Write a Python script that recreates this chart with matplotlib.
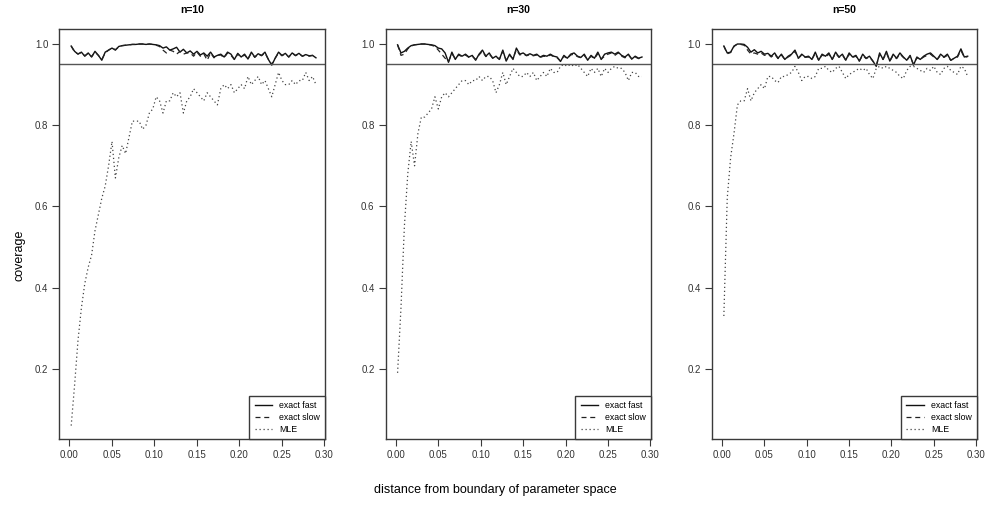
import numpy as np
import matplotlib
matplotlib.use('Agg')
import matplotlib.pyplot as plt

# distance grid (same for all three panels)
dist = np.arange(0.002, 0.2901, 0.004)

panel_titles = ['n=10', 'n=30', 'n=50']
series_labels = ['exact fast', 'exact slow', 'MLE']
y_ticks = [0.2, 0.4, 0.6, 0.8, 1.0]
x_ticks = [0.00, 0.05, 0.10, 0.15, 0.20, 0.25, 0.30]
nominal = 0.95

# n=10
fast_10 = [0.995, 0.982, 0.975, 0.980, 0.970, 0.978, 0.968, 0.982, 0.972, 0.960,
           0.980, 0.985, 0.990, 0.985, 0.994, 0.996, 0.997, 0.998, 0.999, 0.999,
           1.000, 1.000, 0.999, 1.000, 0.999, 0.998, 0.996, 0.990, 0.993, 0.985,
           0.988, 0.992, 0.980, 0.987, 0.978, 0.983, 0.975, 0.982, 0.973, 0.978,
           0.970, 0.980, 0.968, 0.972, 0.975, 0.968, 0.980, 0.975, 0.962, 0.977,
           0.968, 0.975, 0.963, 0.980, 0.968, 0.976, 0.972, 0.980, 0.962, 0.948,
           0.965, 0.980, 0.972, 0.977, 0.968, 0.978, 0.972, 0.977, 0.970, 0.974,
           0.971, 0.972, 0.966]
slow_10 = [0.995, 0.980, 0.976, 0.979, 0.971, 0.977, 0.969, 0.980, 0.972, 0.962,
           0.978, 0.985, 0.990, 0.986, 0.993, 0.996, 0.997, 0.998, 0.999, 0.999,
           1.000, 1.000, 0.999, 1.000, 0.999, 0.997, 0.994, 0.985, 0.978, 0.985,
           0.982, 0.975, 0.982, 0.975, 0.978, 0.978, 0.970, 0.980, 0.970, 0.976,
           0.960, 0.978, 0.966, 0.972, 0.973, 0.966, 0.978, 0.972, 0.962, 0.975,
           0.968, 0.973, 0.963, 0.978, 0.967, 0.975, 0.971, 0.978, 0.962, 0.950,
           0.965, 0.978, 0.971, 0.976, 0.968, 0.977, 0.971, 0.976, 0.970, 0.973,
           0.970, 0.972, 0.967]
mle_10 = [0.06, 0.16, 0.27, 0.35, 0.41, 0.45, 0.48, 0.54, 0.58, 0.62,
          0.65, 0.70, 0.76, 0.67, 0.72, 0.75, 0.73, 0.77, 0.81, 0.81,
          0.81, 0.79, 0.80, 0.83, 0.84, 0.87, 0.86, 0.83, 0.86, 0.86,
          0.88, 0.87, 0.88, 0.83, 0.86, 0.87, 0.89, 0.88, 0.87, 0.86,
          0.88, 0.87, 0.86, 0.85, 0.89, 0.90, 0.89, 0.90, 0.88, 0.89,
          0.90, 0.89, 0.92, 0.90, 0.91, 0.92, 0.90, 0.91, 0.89, 0.87,
          0.90, 0.93, 0.91, 0.90, 0.90, 0.91, 0.90, 0.91, 0.91, 0.93,
          0.91, 0.92, 0.90]

# n=30
fast_30 = [0.998, 0.978, 0.982, 0.990, 0.996, 0.998, 0.999, 1.000, 1.000, 0.999,
           0.998, 0.996, 0.990, 0.988, 0.978, 0.955, 0.980, 0.962, 0.975, 0.970,
           0.975, 0.968, 0.972, 0.960, 0.975, 0.985, 0.970, 0.978, 0.965, 0.970,
           0.962, 0.985, 0.958, 0.975, 0.962, 0.990, 0.975, 0.978, 0.972, 0.976,
           0.972, 0.975, 0.968, 0.972, 0.970, 0.975, 0.970, 0.968, 0.957, 0.972,
           0.965, 0.975, 0.978, 0.970, 0.967, 0.975, 0.960, 0.972, 0.965, 0.980,
           0.962, 0.975, 0.978, 0.980, 0.975, 0.980, 0.972, 0.968, 0.975, 0.963,
           0.970, 0.965, 0.968]
slow_30 = [0.998, 0.972, 0.975, 0.988, 0.995, 0.998, 0.999, 1.000, 1.000, 0.999,
           0.997, 0.994, 0.985, 0.975, 0.965, 0.957, 0.976, 0.964, 0.973, 0.969,
           0.973, 0.967, 0.970, 0.962, 0.973, 0.982, 0.969, 0.975, 0.966, 0.968,
           0.963, 0.982, 0.960, 0.972, 0.964, 0.986, 0.973, 0.976, 0.971, 0.974,
           0.971, 0.973, 0.967, 0.970, 0.969, 0.973, 0.969, 0.966, 0.958, 0.970,
           0.964, 0.973, 0.975, 0.969, 0.966, 0.972, 0.961, 0.970, 0.964, 0.976,
           0.963, 0.970, 0.975, 0.978, 0.972, 0.978, 0.970, 0.966, 0.973, 0.963,
           0.968, 0.964, 0.966]
mle_30 = [0.19, 0.35, 0.55, 0.68, 0.76, 0.70, 0.78, 0.82, 0.82, 0.83,
          0.84, 0.87, 0.84, 0.87, 0.88, 0.87, 0.88, 0.89, 0.90, 0.91,
          0.91, 0.90, 0.91, 0.91, 0.92, 0.91, 0.92, 0.92, 0.91, 0.88,
          0.90, 0.93, 0.90, 0.92, 0.94, 0.93, 0.92, 0.92, 0.93, 0.92,
          0.93, 0.91, 0.92, 0.93, 0.92, 0.94, 0.93, 0.93, 0.945, 0.95,
          0.945, 0.95, 0.945, 0.95, 0.94, 0.93, 0.92, 0.94, 0.93, 0.94,
          0.92, 0.94, 0.93, 0.94, 0.945, 0.94, 0.94, 0.93, 0.91, 0.93,
          0.93, 0.92, 0.92]

# n=50
fast_50 = [0.995, 0.978, 0.980, 0.995, 1.000, 1.000, 0.999, 0.992, 0.980, 0.986,
           0.978, 0.982, 0.975, 0.977, 0.970, 0.978, 0.965, 0.975, 0.962, 0.970,
           0.975, 0.985, 0.965, 0.975, 0.968, 0.970, 0.962, 0.980, 0.960, 0.975,
           0.970, 0.978, 0.962, 0.980, 0.968, 0.975, 0.960, 0.978, 0.968, 0.972,
           0.958, 0.975, 0.965, 0.970, 0.958, 0.945, 0.978, 0.962, 0.982, 0.958,
           0.975, 0.965, 0.978, 0.968, 0.960, 0.972, 0.948, 0.968, 0.962, 0.970,
           0.975, 0.978, 0.970, 0.962, 0.975, 0.968, 0.975, 0.960, 0.965, 0.970,
           0.988, 0.968, 0.970]
slow_50 = [0.995, 0.976, 0.979, 0.994, 1.000, 0.999, 0.997, 0.985, 0.975, 0.978,
           0.975, 0.978, 0.972, 0.975, 0.968, 0.975, 0.964, 0.973, 0.962, 0.968,
           0.973, 0.982, 0.965, 0.973, 0.967, 0.968, 0.962, 0.977, 0.960, 0.973,
           0.968, 0.975, 0.962, 0.977, 0.967, 0.973, 0.960, 0.975, 0.967, 0.970,
           0.958, 0.972, 0.964, 0.968, 0.958, 0.947, 0.975, 0.962, 0.978, 0.958,
           0.972, 0.964, 0.975, 0.967, 0.960, 0.970, 0.950, 0.966, 0.962, 0.968,
           0.972, 0.975, 0.968, 0.962, 0.972, 0.967, 0.972, 0.960, 0.964, 0.968,
           0.984, 0.967, 0.969]
mle_50 = [0.33, 0.62, 0.72, 0.78, 0.85, 0.86, 0.86, 0.89, 0.86, 0.88,
          0.89, 0.90, 0.89, 0.92, 0.92, 0.91, 0.905, 0.92, 0.92, 0.925,
          0.93, 0.945, 0.93, 0.91, 0.92, 0.92, 0.915, 0.92, 0.94, 0.94,
          0.945, 0.935, 0.93, 0.94, 0.945, 0.93, 0.915, 0.925, 0.93, 0.935,
          0.94, 0.935, 0.94, 0.925, 0.915, 0.94, 0.945, 0.94, 0.945, 0.94,
          0.935, 0.93, 0.92, 0.915, 0.935, 0.945, 0.945, 0.94, 0.935, 0.93,
          0.94, 0.935, 0.945, 0.93, 0.925, 0.94, 0.945, 0.935, 0.93, 0.925,
          0.945, 0.94, 0.92]

panels = [
    (fast_10, slow_10, mle_10),
    (fast_30, slow_30, mle_30),
    (fast_50, slow_50, mle_50),
]

plt.rcParams['font.family'] = ['Liberation Sans', 'DejaVu Sans']

fig = plt.figure(figsize=(9.87, 5.08), dpi=100, facecolor='white')

# axes boxes in pixel coords (left, top, right, bottom) -> figure fractions
W, H = 987.0, 508.0
boxes = [(59.3, 29, 325.3, 439), (385.7, 29, 651.3, 439), (712, 29, 977, 439)]
box_col = '#3a3a3a'

for (l, t, r, b), title, (fast, slow, mle) in zip(boxes, panel_titles, panels):
    ax = fig.add_axes([l / W, 1 - b / H, (r - l) / W, (b - t) / H])
    ax.plot(dist, fast, color='#111111', lw=1.0, label=series_labels[0])
    ax.plot(dist, slow, color='#222222', lw=0.9, linestyle=(0, (4, 3)),
            label=series_labels[1])
    ax.plot(dist, mle, color='#444444', lw=0.9, linestyle=(0, (1, 2.2)),
            label=series_labels[2])
    ax.axhline(nominal, color='#555555', lw=1.0)

    ax.set_xlim(-0.012, 0.301)
    ax.set_ylim(0.027, 1.037)
    ax.set_xticks(x_ticks)
    ax.set_xticklabels([f'{v:.2f}' for v in x_ticks], fontsize=7, color='#333333')
    ax.set_yticks(y_ticks)
    ax.set_yticklabels([f'{v:.1f}' for v in y_ticks], fontsize=7, color='#333333')
    ax.tick_params(direction='out', length=5, width=0.8, color=box_col, pad=3)
    for s in ax.spines.values():
        s.set_color(box_col)
        s.set_linewidth(1.0)

    ax.text(0.5, 1 + 19 / 410, title, transform=ax.transAxes, ha='center',
            va='center', fontsize=7.5, fontweight='bold')

    leg = ax.legend(loc='lower right', fontsize=6.3, fancybox=False,
                    borderaxespad=0, handlelength=2.0, handletextpad=0.8,
                    labelspacing=0.3, borderpad=0.6, framealpha=1)
    leg.get_frame().set_edgecolor(box_col)
    leg.get_frame().set_linewidth(1.0)

fig.text(20 / W, 1 - 255 / H, 'coverage', rotation=90, ha='center', va='center',
         fontsize=9)
fig.text(495 / W, 1 - 490 / H, 'distance from boundary of parameter space',
         ha='center', va='center', fontsize=9)

fig.savefig('out.png', dpi=100, facecolor='white')
